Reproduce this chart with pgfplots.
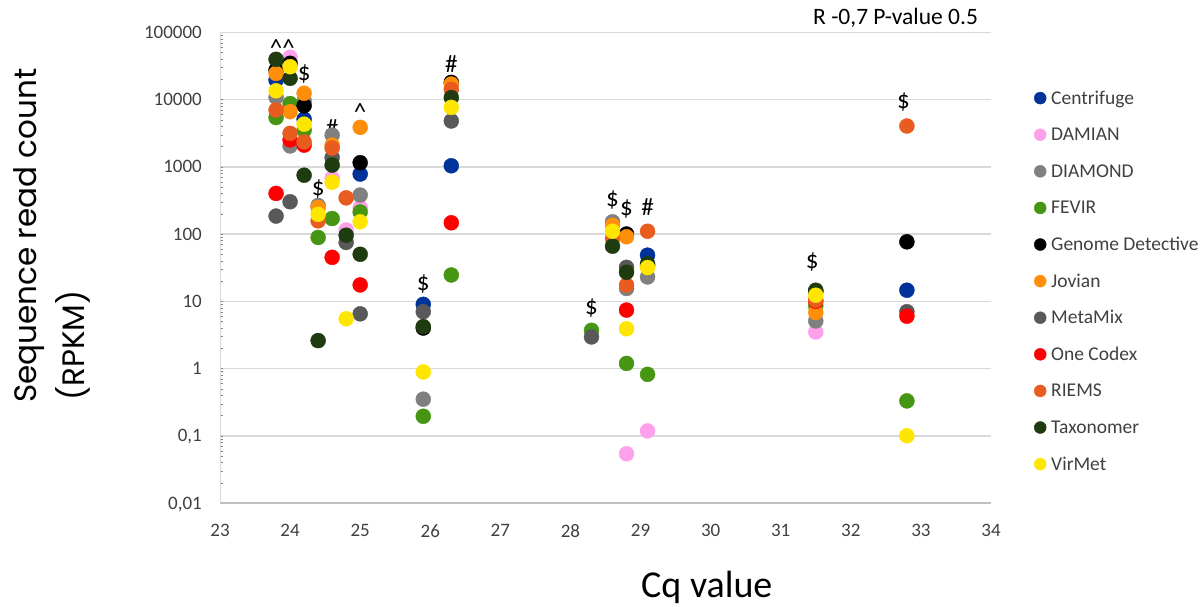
\documentclass[border=0pt]{standalone}
\usepackage{fontspec}
\setmainfont{Carlito}
\newfontfamily\titlefont{Poppins}
\usepackage{pgfplots}
\pgfplotsset{compat=1.18}

\definecolor{cCentrifuge}{RGB}{0,51,153}
\definecolor{cDamian}{RGB}{255,160,235}
\definecolor{cDiamond}{RGB}{128,128,128}
\definecolor{cFevir}{RGB}{70,150,20}
\definecolor{cGD}{RGB}{0,0,0}
\definecolor{cJovian}{RGB}{255,142,10}
\definecolor{cMetaMix}{RGB}{89,89,89}
\definecolor{cOneCodex}{RGB}{255,0,0}
\definecolor{cRiems}{RGB}{232,92,32}
\definecolor{cTaxonomer}{RGB}{30,60,16}
\definecolor{cVirMet}{RGB}{255,230,0}
\definecolor{gridgray}{RGB}{217,217,217}
\definecolor{axisgray}{RGB}{191,191,191}
\definecolor{labelgray}{RGB}{64,64,64}

\pgfplotsset{
  dot/.style={only marks, mark=*, mark size=7.5pt, color=#1, mark options={draw=none}},
}

\begin{document}
\begin{tikzpicture}
\useasboundingbox (0pt,0pt) rectangle (1202pt,-607pt);
\begin{axis}[
  at={(220pt,-503pt)}, anchor=south west,
  scale only axis, width=771pt, height=470.7pt,
  xmin=23, xmax=34, xtick={23,...,34},
  ymode=log, ymin=0.01, ymax=100000,
  ytick={0.01,0.1,1,10,100,1000,10000,100000},
  yticklabels={{0,01},{0,1},1,10,100,1000,10000,100000},
  axis x line*=bottom, axis y line*=left,
  x axis line style={draw=axisgray, line width=1.5pt},
  y axis line style={draw=gridgray, line width=1pt},
  major tick length=0pt,
  ymajorgrids=true,
  grid style={draw=gridgray, line width=1.5pt},
  /pgf/number format/assume math mode=true,
  ticklabel style={font=\fontsize{19pt}{22pt}\selectfont, text=labelgray, inner sep=0pt},
  yticklabel style={anchor=base east, xshift=-18pt, yshift=-6pt},
  xticklabel style={anchor=north, yshift=-21pt},
  clip=false,
  legend image code/.code={\draw[#1, mark size=6pt] plot coordinates {(0pt,2pt)};},
  legend cell align=left,
  legend style={at={(axis description cs:1.0558,0.8733)}, anchor=north west,
    draw=none, fill=none, inner sep=0pt, row sep=20.6pt,
    font=\fontsize{19.5pt}{22pt}\selectfont, text=labelgray,
    nodes={inner sep=0pt, text height=12pt, text depth=4pt},
    /tikz/every odd column/.append style={column sep=5pt}},
]
\addplot[dot=cCentrifuge] coordinates {
  (23.8,19500) (24.2,5100) (25.0,780) (25.9,9.0) (26.3,1035)
  (29.1,48.5) (32.8,14.6)};
\addlegendentry{Centrifuge}
\addplot[dot=cDamian] coordinates {
  (24.0,42500) (24.6,680) (24.8,115) (25.0,249) (28.8,0.054)
  (29.1,0.118) (31.5,3.5)};
\addlegendentry{DAMIAN}
\addplot[dot=cDiamond] coordinates {
  (23.8,10800) (24.0,2040) (24.2,9500) (24.4,265) (24.6,2950)
  (25.0,380) (25.9,0.35) (28.6,152) (28.8,15.5) (29.1,23) (31.5,5.1)};
\addlegendentry{DIAMOND}
\addplot[dot=cFevir] coordinates {
  (23.8,5400) (24.0,8700) (24.2,3500) (24.4,89) (24.6,170) (25.0,213)
  (25.9,0.195) (26.3,24.6) (28.3,3.7) (28.8,1.19) (29.1,0.82)
  (31.5,8.5) (32.8,0.33)};
\addlegendentry{FEVIR}
\addplot[dot=cGD] coordinates {
  (23.8,27500) (24.0,34600) (24.2,8100) (25.0,1150) (25.9,4.0)
  (26.3,18000) (28.8,100) (29.1,34) (31.5,14) (32.8,76.6)};
\addlegendentry{Genome Detective}
\addplot[dot=cJovian] coordinates {
  (23.8,24500) (24.0,6600) (24.2,12400) (24.4,249) (24.6,2100)
  (25.0,3860) (26.3,17000) (28.6,135) (28.8,91) (31.5,6.8)};
\addlegendentry{Jovian}
\addplot[dot=cMetaMix] coordinates {
  (23.8,185) (24.0,302) (24.6,1370) (24.8,75) (25.0,6.5) (25.9,7.0)
  (26.3,4800) (28.3,2.95) (28.8,32) (32.8,7.0)};
\addlegendentry{MetaMix}
\addplot[dot=cOneCodex] coordinates {
  (23.8,402) (24.0,2510) (24.2,2100) (24.6,45) (25.0,17.5) (26.3,147)
  (28.8,7.4) (31.5,10) (32.8,6.0)};
\addlegendentry{One Codex}
\addplot[dot=cRiems] coordinates {
  (23.8,7000) (24.0,3140) (24.2,2350) (24.4,157) (24.6,1900)
  (24.8,345) (26.3,14200) (28.6,86) (28.8,17.4) (29.1,110)
  (31.5,10.4) (32.8,4040)};
\addlegendentry{RIEMS}
\addplot[dot=cTaxonomer] coordinates {
  (23.8,39600) (24.0,20700) (24.2,750) (24.4,2.6) (24.6,1060)
  (24.8,96) (25.0,50) (25.9,4.2) (26.3,10700) (28.6,66) (28.8,27)
  (29.1,36) (31.5,14.6)};
\addlegendentry{Taxonomer}
\addplot[dot=cVirMet] coordinates {
  (23.8,13500) (24.0,30800) (24.2,4300) (24.4,196) (24.6,590)
  (24.8,5.5) (25.0,152) (25.9,0.89) (26.3,7650) (28.6,110) (28.8,3.9)
  (29.1,31.7) (31.5,12.3) (32.8,0.1)};
\addlegendentry{VirMet}

% significance marks
\begin{scope}[every node/.style={font=\fontsize{25pt}{27pt}\selectfont, inner sep=0pt}]
\node[yshift=-4pt] at (axis cs:23.89,67000) {\textasciicircum\textasciicircum};
\node at (axis cs:24.2,24000) {\$};
\node at (axis cs:24.6,3770) {\#};
\node[yshift=-4pt] at (axis cs:25.0,7450) {\textasciicircum};
\node at (axis cs:24.4,466) {\$};
\node at (axis cs:25.9,17.9) {\$};
\node at (axis cs:26.3,33700) {\#};
\node at (axis cs:28.3,7.9) {\$};
\node at (axis cs:28.6,316) {\$};
\node at (axis cs:28.8,234) {\$};
\node at (axis cs:29.1,251) {\#};
\node at (axis cs:31.45,38) {\$};
\node at (axis cs:32.75,9120) {\$};
\end{scope}
\end{axis}

\node[rotate=90, anchor=base west, inner sep=0pt, font=\titlefont\fontsize{31pt}{40pt}\selectfont]
  at (36pt,-403pt) {Sequence read count};
\node[rotate=90, anchor=base west, inner sep=0pt, font=\titlefont\fontsize{31pt}{40pt}\selectfont]
  at (84pt,-401pt) {(RPKM)};
\node[anchor=base west, inner sep=0pt, font=\fontsize{38pt}{44pt}\selectfont]
  at (641pt,-597pt) {Cq value};
\node[anchor=base west, inner sep=0pt, font=\fontsize{23.5pt}{26pt}\selectfont]
  at (813pt,-25pt) {R -0,7 P-value 0.5};
\end{tikzpicture}
\end{document}
